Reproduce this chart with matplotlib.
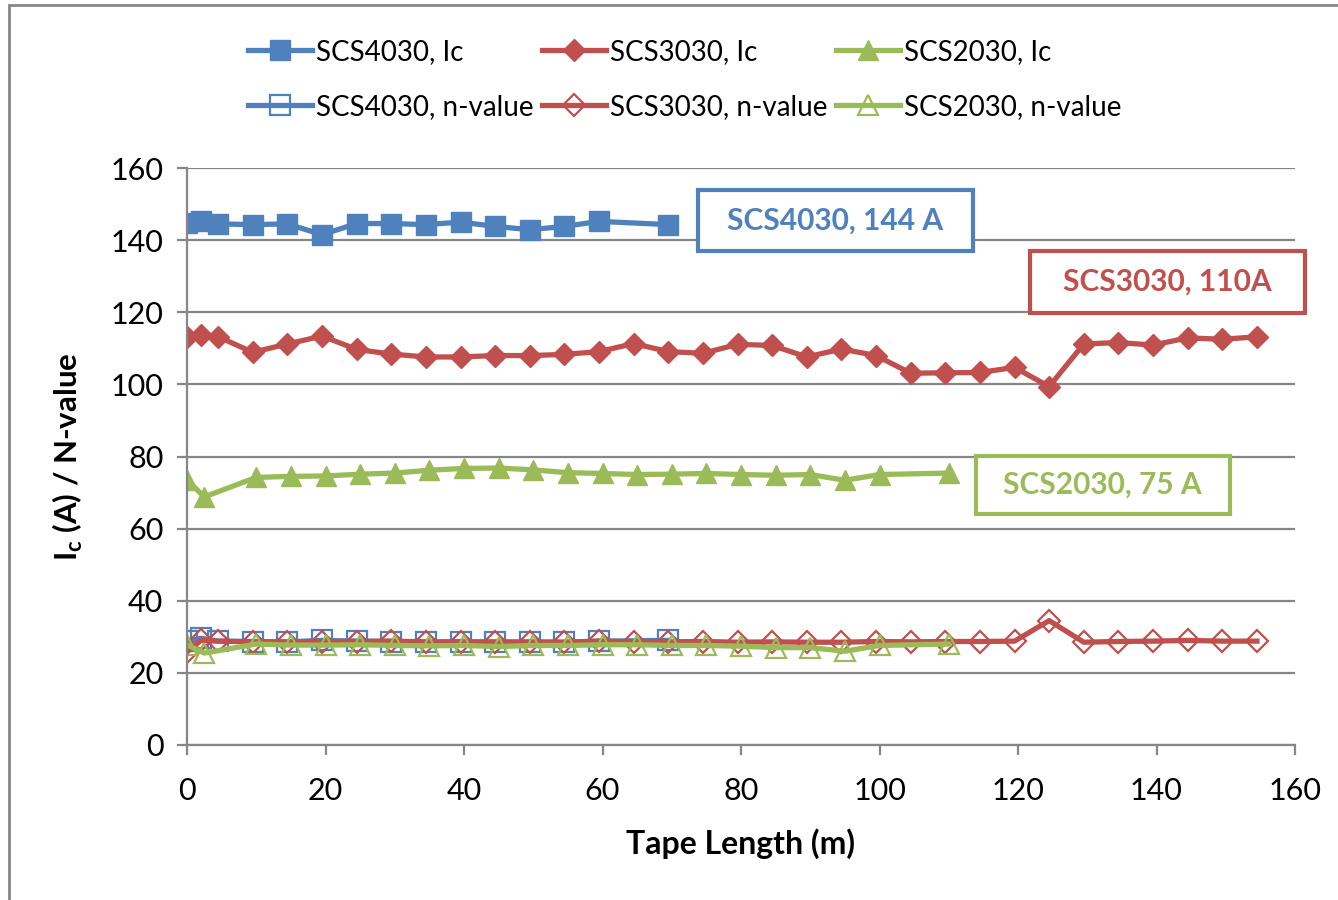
'''
Critical current and n-value along the tape length
for SCS4030, SCS3030 and SCS2030 tapes
'''

import numpy as np
import matplotlib.pyplot as plt
from matplotlib.patches import Rectangle

plt.rcParams['font.family'] = ['Lato', 'DejaVu Sans']
plt.rcParams['mathtext.fontset'] = 'custom'
plt.rcParams['mathtext.rm'] = 'Lato'
plt.rcParams['mathtext.bf'] = 'Lato:bold'

# ------------------------------- data ---------------------------------------
x_4030 = [0, 2, 4.5, 9.5, 14.5, 19.5, 24.5, 29.5, 34.5, 39.5, 44.5, 49.5,
          54.5, 59.5, 69.5]
ic_4030 = [144.8, 145.4, 144.5, 144.3, 144.5, 141.5, 144.6, 144.6, 144.3,
           145.0, 143.8, 142.9, 143.8, 145.2, 144.3]
n_4030 = [28.8, 29.6, 28.8, 28.7, 28.6, 29.0, 28.8, 28.7, 28.5, 28.7, 28.5,
          28.6, 28.5, 28.8, 29.0]

x_3030 = [0, 2, 4.5, 9.5, 14.5, 19.5, 24.5, 29.5, 34.5, 39.5, 44.5, 49.5,
          54.5, 59.5, 64.5, 69.5, 74.5, 79.5, 84.5, 89.5, 94.5, 99.5, 104.5,
          109.5, 114.5, 119.5, 124.5, 129.5, 134.5, 139.5, 144.5, 149.5, 154.5]
ic_3030 = [113.1, 113.6, 113.2, 108.9, 111.2, 113.4, 109.7, 108.4, 107.6,
           107.6, 108.0, 108.0, 108.3, 109.1, 111.3, 109.1, 108.6, 111.1,
           110.8, 107.6, 109.8, 108.0, 103.1, 103.2, 103.3, 104.7, 99.4,
           111.2, 111.6, 110.9, 112.9, 112.5, 113.2]
n_3030 = [25.8, 29.0, 28.8, 28.6, 28.5, 28.7, 28.7, 28.8, 28.6, 28.5, 28.6,
          28.5, 28.5, 28.8, 28.6, 28.6, 28.7, 28.5, 28.6, 28.5, 28.5, 28.7,
          28.6, 28.7, 28.7, 28.8, 34.5, 28.5, 28.7, 28.8, 29.0, 28.8, 28.8]

x_2030 = [0, 2.5, 10, 15, 20, 25, 30, 35, 40, 45, 50, 55, 60, 65, 70, 75,
          80, 85, 90, 95, 100, 110]
ic_2030 = [73.5, 68.8, 74.2, 74.5, 74.6, 75.1, 75.4, 76.2, 76.7, 76.8, 76.3,
           75.5, 75.3, 75.0, 75.1, 75.3, 75.0, 74.8, 75.0, 73.4, 75.0, 75.4]
n_2030 = [27.8, 25.5, 28.0, 27.7, 27.7, 27.8, 27.6, 27.5, 27.6, 27.3, 27.6,
          27.6, 27.8, 27.8, 27.6, 27.6, 27.4, 27.0, 27.0, 26.0, 27.6, 28.0]

labels = ['SCS4030, Ic', 'SCS4030, n-value', 'SCS3030, Ic',
          'SCS3030, n-value', 'SCS2030, Ic', 'SCS2030, n-value']
box_labels = ['SCS4030, 144 A', 'SCS3030, 110A', 'SCS2030, 75 A']

blue = '#4F81BD'
red = '#C0504D'
green = '#9BBB59'
grey = '#868686'

fig = plt.figure(figsize=(13.38, 9), dpi=100)
ax = fig.add_axes([187/1338, 1-745/900, (1295-187)/1338, (745-168)/900])

lw = 3.8
h_ic4030, = ax.plot(x_4030, ic_4030, '-s', color=blue, lw=lw, ms=15)
h_n4030, = ax.plot(x_4030, n_4030, '-s', color=blue, lw=lw, ms=15,
                   mfc='none', mew=1.6)
h_ic3030, = ax.plot(x_3030, ic_3030, '-D', color=red, lw=lw, ms=11.5)
h_n3030, = ax.plot(x_3030, n_3030, '-D', color=red, lw=lw, ms=11.5,
                   mfc='none', mew=1.6)
h_ic2030, = ax.plot(x_2030, ic_2030, '-^', color=green, lw=lw, ms=14.5)
h_n2030, = ax.plot(x_2030, n_2030, '-^', color=green, lw=lw, ms=14.5,
                   mfc='none', mew=1.6)

# Axes styling
ax.set_xlim(0, 160)
ax.set_ylim(0, 160)
ax.set_xticks(np.arange(0, 161, 20))
ax.set_yticks(np.arange(0, 161, 20))
ax.grid(axis='y', color=grey, lw=1.6)
ax.set_axisbelow(True)
for s in ['top', 'right']:
    ax.spines[s].set_visible(False)
for s in ['left', 'bottom']:
    ax.spines[s].set_color(grey)
    ax.spines[s].set_linewidth(1.6)
ax.tick_params(colors=grey, width=1.6, length=7, labelsize=22,
               labelcolor='black')
ax.tick_params(axis='x', pad=16)
ax.tick_params(axis='y', pad=10)

ax.set_xlabel('Tape Length (m)', fontsize=23, fontweight='bold', labelpad=17)
ax.set_ylabel(r'I$_{\mathbf{c}}$ (A) / N-value', fontsize=22.5,
              fontweight='bold', labelpad=18)

# Legend: 2 rows x 3 columns (matplotlib fills column-wise)
handles = [h_ic4030, h_n4030, h_ic3030, h_n3030, h_ic2030, h_n2030]
fig.legend(handles, labels, ncol=3, loc='center', bbox_to_anchor=(0.512, 0.912),
           frameon=False, fontsize=20, handlelength=2.3, handletextpad=0.15,
           columnspacing=0.3, labelspacing=1.05, borderpad=0.2)

# Annotation boxes (axes fraction: x0, y0, x1, y1)
box_pos = [(0.461, 0.856, 0.709, 0.962),
           (0.761, 0.749, 1.009, 0.856),
           (0.712, 0.400, 0.941, 0.501)]
for (x0, y0, x1, y1), txt, col in zip(box_pos, box_labels,
                                      [blue, red, green]):
    ax.add_patch(Rectangle((x0, y0), x1 - x0, y1 - y0, transform=ax.transAxes,
                           fc='white', ec=col, lw=3.0, clip_on=False,
                           zorder=5))
    ax.text((x0 + x1) / 2, (y0 + y1) / 2, txt, color=col, fontsize=21.5,
            fontweight='bold', ha='center', va='center',
            transform=ax.transAxes, zorder=6)

# Chart border (only top/left visible in the reference)
fig.patches.append(Rectangle((9/1338, -0.1), 1.2, 1-5/900+0.1,
                             transform=fig.transFigure, fill=False,
                             ec=grey, lw=2))

plt.savefig('out.png', dpi=100)
